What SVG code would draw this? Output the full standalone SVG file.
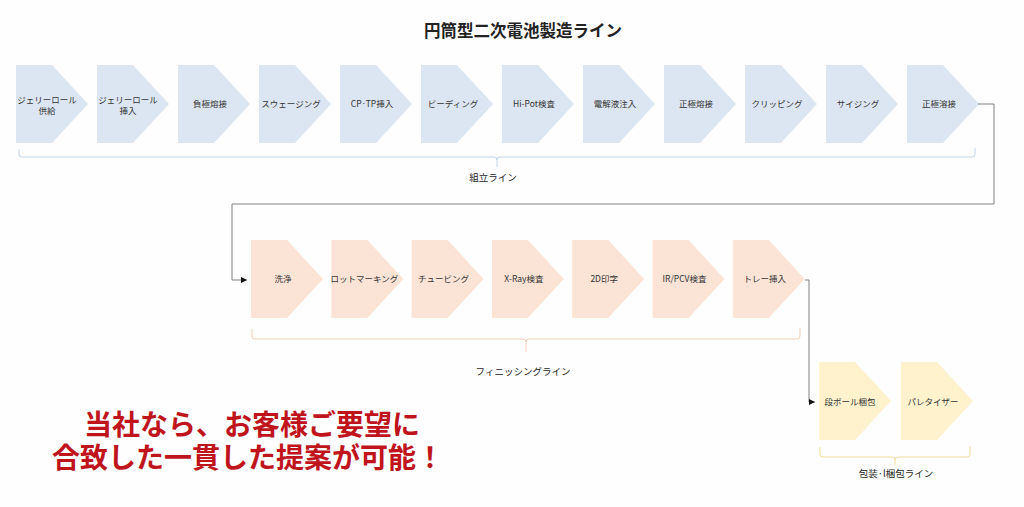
<svg xmlns="http://www.w3.org/2000/svg" width="1024" height="507" viewBox="0 0 1024 507">
<defs>
<style>
text{font-family:"Noto Sans CJK JP","Liberation Sans",sans-serif;}
.lbl{font-size:8.5px;fill:#333;text-anchor:middle;}
.blue{fill:#dce6f2;}
.orange{fill:#fbe4d5;}
.yellow{fill:#fff2cc;}
.grp{font-size:9.5px;fill:#222;text-anchor:middle;}
.br{fill:none;stroke-width:1;}
.conn{fill:none;stroke:#808080;stroke-width:1;}
</style>
<path id="chev" d="M0,0 H36 L72,39 L36,78 H0 Z"/>
<marker id="arr" viewBox="0 0 6 6" refX="6" refY="3" markerWidth="6" markerHeight="6" orient="auto" markerUnits="userSpaceOnUse">
<path d="M0,0 L6,3 L0,6 Z" fill="#111"/>
</marker>
</defs>
<rect width="1024" height="507" fill="#fefefe"/>
<text x="523" y="37" font-size="16.5" font-weight="bold" fill="#222" text-anchor="middle">円筒型二次電池製造ライン</text>

<g id="assembly">
<g id="n1" transform="translate(16,65)"><use href="#chev" class="blue"/><text class="lbl" x="31" y="38">ジェリーロール</text><text class="lbl" x="31" y="49">供給</text></g>
<g id="n2" transform="translate(97,65)"><use href="#chev" class="blue"/><text class="lbl" x="31" y="38">ジェリーロール</text><text class="lbl" x="31" y="49">挿入</text></g>
<g id="n3" transform="translate(178,65)"><use href="#chev" class="blue"/><text class="lbl" x="32" y="42">負極熔接</text></g>
<g id="n4" transform="translate(259,65)"><use href="#chev" class="blue"/><text class="lbl" x="32" y="42">スウェージング</text></g>
<g id="n5" transform="translate(340,65)"><use href="#chev" class="blue"/><text class="lbl" x="32" y="42">CP·TP挿入</text></g>
<g id="n6" transform="translate(421,65)"><use href="#chev" class="blue"/><text class="lbl" x="32" y="42">ビーディング</text></g>
<g id="n7" transform="translate(502,65)"><use href="#chev" class="blue"/><text class="lbl" x="32" y="42">Hi-Pot検査</text></g>
<g id="n8" transform="translate(583,65)"><use href="#chev" class="blue"/><text class="lbl" x="32" y="42">電解液注入</text></g>
<g id="n9" transform="translate(664,65)"><use href="#chev" class="blue"/><text class="lbl" x="32" y="42">正極熔接</text></g>
<g id="n10" transform="translate(745,65)"><use href="#chev" class="blue"/><text class="lbl" x="32" y="42">クリッピング</text></g>
<g id="n11" transform="translate(826,65)"><use href="#chev" class="blue"/><text class="lbl" x="32" y="42">サイジング</text></g>
<g id="n12" transform="translate(907,65)"><use href="#chev" class="blue"/><text class="lbl" x="32" y="42">正極溶接</text></g>
<g id="b1"><path class="br" stroke="#c3d4e8" d="M19,149 V154 Q19,157 22,157 H494 Q497,157 497,160 V167 M497,160 Q497,157 500,157 H972 Q975,157 975,154 V148"/>
<text class="grp" x="493" y="181">組立ライン</text></g>
</g>

<g id="finishing">
<g id="m1" transform="translate(251,240)"><use href="#chev" class="orange"/><text class="lbl" x="32" y="42">洗浄</text></g>
<g id="m2" transform="translate(331.3,240)"><use href="#chev" class="orange"/><text class="lbl" x="33" y="42">ロットマーキング</text></g>
<g id="m3" transform="translate(411.6,240)"><use href="#chev" class="orange"/><text class="lbl" x="32" y="42">チュービング</text></g>
<g id="m4" transform="translate(491.9,240)"><use href="#chev" class="orange"/><text class="lbl" x="32" y="42">X-Ray検査</text></g>
<g id="m5" transform="translate(572.2,240)"><use href="#chev" class="orange"/><text class="lbl" x="32" y="42">2D印字</text></g>
<g id="m6" transform="translate(652.5,240)"><use href="#chev" class="orange"/><text class="lbl" x="32" y="42">IR/PCV検査</text></g>
<g id="m7" transform="translate(732.8,240)"><use href="#chev" class="orange"/><text class="lbl" x="32" y="42">トレー挿入</text></g>
<g id="b2"><path class="br" stroke="#f5cfb3" d="M252,329 V336 Q252,339 255,339 H523 Q526,339 526,342 V352 M526,342 Q526,339 529,339 H797 Q800,339 800,336 V328"/>
<text class="grp" x="523" y="375">フィニッシングライン</text></g>
</g>

<g id="packing">
<g id="p1" transform="translate(819,362)"><use href="#chev" class="yellow"/><text class="lbl" x="31" y="43">段ボール梱包</text></g>
<g id="p2" transform="translate(901,362)"><use href="#chev" class="yellow"/><text class="lbl" x="32" y="43">パレタイザー</text></g>
<g id="b3"><path class="br" stroke="#f3dc98" d="M820,447 V454 Q820,457 823,457 H892 Q895,457 895,460 V465 M895,460 Q895,457 898,457 H967 Q970,457 970,454 V446"/>
<text class="grp" x="896" y="477">包装·l梱包ライン</text></g>
</g>

<g id="connectors">
<path class="conn" d="M978,104 H994 V204 H232 V280 H247" marker-end="url(#arr)"/>
<path class="conn" d="M805,280 H809 V402 H815" marker-end="url(#arr)"/>
</g>

<g id="message" fill="#c0141c" font-weight="bold" font-size="28" text-anchor="middle">
<text x="252" y="435">当社なら、お客様ご要望に</text>
<text x="248" y="468">合致した一貫した提案が可能！</text>
</g>
</svg>
